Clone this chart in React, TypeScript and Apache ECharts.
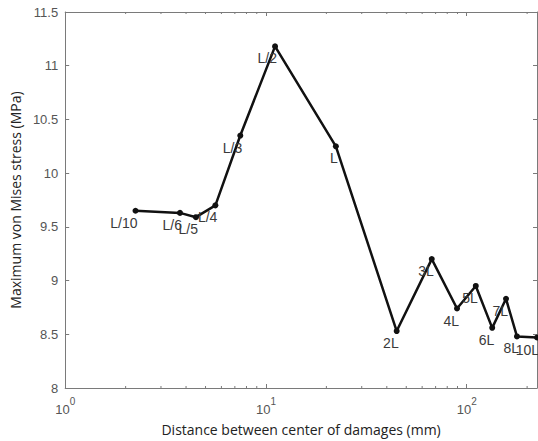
import React, { useEffect, useRef } from "react";
import * as echarts from "echarts";

const labels = ["L/10", "L/6", "L/5", "L/4", "L/3", "L/2", "L", "2L", "3L", "4L", "5L", "6L", "7L", "8L", "10L"];
const distances = [2.24, 3.73, 4.48, 5.6, 7.45, 11.1, 22.3, 44.8, 67, 89.5, 111, 134, 157, 178, 224];
const stresses = [9.65, 9.63, 9.59, 9.7, 10.35, 11.18, 10.25, 8.53, 9.2, 8.74, 8.95, 8.56, 8.83, 8.48, 8.47];
const minorTickValues = [2, 3, 4, 5, 6, 7, 8, 9, 20, 30, 40, 50, 60, 70, 80, 90, 200];
const xMin = 1;
const xMax = 224;
const yMin = 8;
const yMax = 11.5;
const yStep = 0.5;

const axisGray = "#7a7a7a";
const tickText = "#555555";

export default function App() {
  const ref = useRef<HTMLDivElement>(null);
  useEffect(() => {
    if (!ref.current) return;
    const chart = echarts.init(ref.current, undefined, { renderer: "svg" });
    const sup = (v: number) => {
      const e = Math.round(Math.log10(v));
      if (Math.abs(Math.log10(v) - e) > 1e-6) return "";
      return `{b|10}{s|${e}}`;
    };
    chart.setOption({
      animation: false,
      backgroundColor: "#ffffff",
      grid: { left: 61, right: 1, top: 12, bottom: 52 },
      xAxis: [
        {
          type: "log",
          logBase: 10,
          min: xMin,
          max: xMax,
          interval: 1,
          name: "Distance between center of damages (mm)",
          nameLocation: "middle",
          nameGap: 34,
          nameTextStyle: { fontFamily: "Open Sans", fontSize: 14, color: "#222" },
          axisLine: { show: true, lineStyle: { color: axisGray, width: 1 } },
          axisTick: { show: true, inside: true, length: 4, lineStyle: { color: axisGray } },
          splitLine: { show: false },
          axisLabel: {
            margin: 8,
            showMaxLabel: false,
            formatter: (v: number) => sup(v),
            rich: {
              b: { fontFamily: "Liberation Sans", fontSize: 13, color: tickText, verticalAlign: "bottom", lineHeight: 20 },
              s: { fontFamily: "Liberation Sans", fontSize: 10, color: tickText, verticalAlign: "top", lineHeight: 20 },
            },
          },
        },
        {
          type: "log",
          logBase: 10,
          min: xMin,
          max: xMax,
          interval: 1,
          position: "top",
          axisLine: { show: true, lineStyle: { color: axisGray, width: 1 } },
          axisTick: { show: true, inside: true, length: 4, lineStyle: { color: axisGray } },
          axisLabel: { show: false },
          splitLine: { show: false },
        },
      ],
      yAxis: [
        {
          type: "value",
          min: yMin,
          max: yMax,
          interval: yStep,
          name: "Maximum von Mises stress (MPa)",
          nameLocation: "middle",
          nameGap: 37,
          nameTextStyle: { fontFamily: "Open Sans", fontSize: 14, color: "#222" },
          axisLine: { show: true, lineStyle: { color: axisGray, width: 1 } },
          axisTick: { show: true, inside: true, length: 4, lineStyle: { color: axisGray } },
          splitLine: { show: false },
          axisLabel: { margin: 7, fontFamily: "Liberation Sans", fontSize: 13, color: tickText },
        },
        {
          type: "value",
          min: yMin,
          max: yMax,
          interval: yStep,
          position: "right",
          axisLine: { show: true, lineStyle: { color: axisGray, width: 1 } },
          axisTick: { show: true, inside: true, length: 4, lineStyle: { color: axisGray } },
          axisLabel: { show: false },
          splitLine: { show: false },
        },
      ],
      series: [
        {
          type: "custom",
          silent: true,
          xAxisIndex: 0,
          yAxisIndex: 0,
          data: minorTickValues.map((v) => [v, yMin]),
          renderItem: (params: any, api: any) => {
            const v = api.value(0);
            const b = api.coord([v, yMin]);
            const t = api.coord([v, yMax]);
            return {
              type: "group",
              children: [
                { type: "line", shape: { x1: b[0], y1: b[1], x2: b[0], y2: b[1] - 2 }, style: { stroke: axisGray, lineWidth: 1 } },
                { type: "line", shape: { x1: t[0], y1: t[1], x2: t[0], y2: t[1] + 2 }, style: { stroke: axisGray, lineWidth: 1 } },
              ],
            };
          },
        },
        {
          type: "line",
          xAxisIndex: 0,
          yAxisIndex: 0,
          data: distances.map((d, i) => ({ value: [d, stresses[i]], name: labels[i] })),
          symbol: "circle",
          symbolSize: 6,
          lineStyle: { color: "#111", width: 2.5 },
          itemStyle: { color: "#111" },
          label: {
            show: true,
            formatter: "{b}",
            position: [5, 8],
            align: "right",
            verticalAlign: "top",
            fontFamily: "Liberation Sans",
            fontSize: 14,
            color: "#3a3a3a",
          },
          z: 3,
        },
      ],
    });
    return () => chart.dispose();
  }, []);
  return <div ref={ref} style={{ position: "fixed", left: 0, top: 0, width: 538, height: 441 }} />;
}
